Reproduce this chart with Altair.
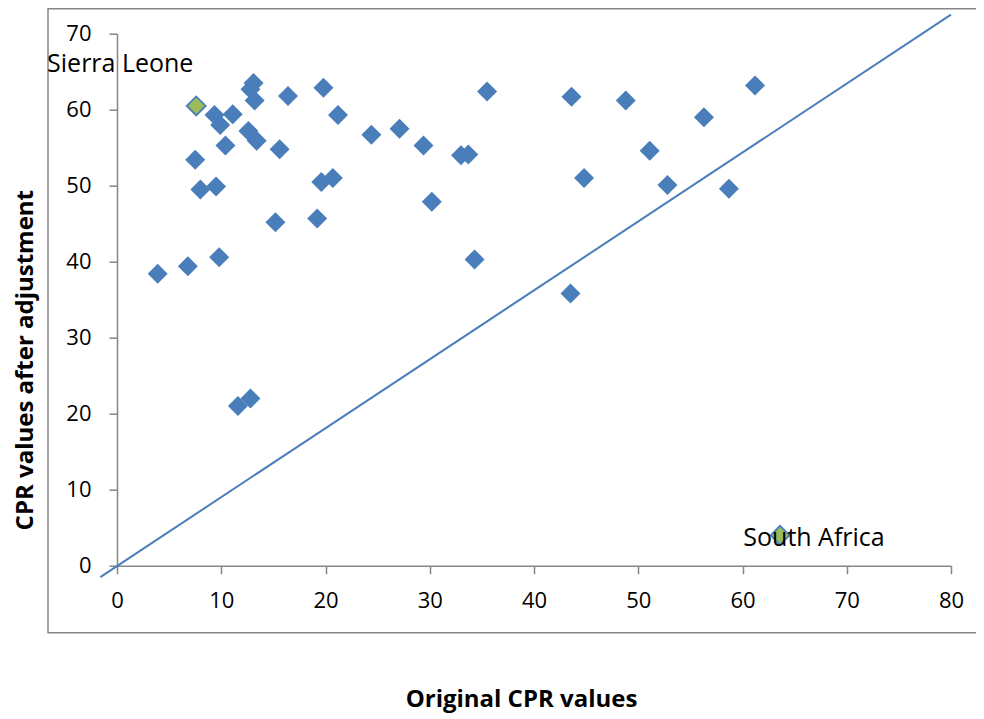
import altair as alt
import pandas as pd

# Original CPR values (x) and CPR values after adjustment (y)
original = [3.9, 6.8, 9.8, 7.5, 8.0, 9.5, 9.35, 9.9, 11.1, 10.4, 12.8, 13.1, 13.2,
            12.6, 13.4, 16.4, 15.6, 15.2, 19.8, 21.2, 19.2, 19.6, 20.7, 24.4, 27.1,
            29.4, 30.2, 33.0, 33.7, 34.3, 35.5, 43.6, 48.8, 61.2, 56.3, 51.1, 44.8,
            52.8, 58.7, 43.5, 11.6, 12.8]
adjusted = [38.4, 39.4, 40.6, 53.4, 49.5, 49.9, 59.3, 58.0, 59.4, 55.3, 62.7, 63.5, 61.2,
            57.2, 55.9, 61.8, 54.8, 45.2, 62.9, 59.3, 45.7, 50.5, 51.0, 56.7, 57.5,
            55.3, 47.9, 54.0, 54.1, 40.3, 62.4, 61.7, 61.2, 63.2, 59.0, 54.6, 51.0,
            50.1, 49.6, 35.8, 21.0, 22.0]

highlight_names = ["Sierra Leone", "South Africa"]
highlight_x = [7.6, 63.6]
highlight_y = [60.5, 4.0]

line_x = [-1.6, 80]
line_y = [-1.5, 72.5]

BLUE = "#4a7ebb"
GREEN = "#9bbb59"
GRAY = "#868686"
FONT = "Open Sans"

pts = pd.DataFrame({"x": original, "y": adjusted})
hl = pd.DataFrame({"name": highlight_names, "x": highlight_x, "y": highlight_y})
ln = pd.DataFrame({"x": line_x, "y": line_y})

xscale = alt.Scale(domain=[0, 80], nice=False, zero=False)
yscale = alt.Scale(domain=[0, 70], nice=False, zero=False)

xaxis = alt.Axis(values=list(range(0, 81, 10)), title="Original CPR values",
                 titleX=404, titleY=134, titleBaseline="middle", titleAlign="center",
                 labelPadding=17, labelFlush=False)
yaxis = alt.Axis(values=list(range(0, 71, 10)), title="CPR values after adjustment",
                 titleX=-92, titleY=326, titleAngle=270, titleBaseline="middle",
                 titleAlign="center", labelPadding=18, labelFlush=False)

frame = alt.Chart(pd.DataFrame({"a": [0]})).mark_rect(
    fillOpacity=0, stroke=GRAY, strokeWidth=1.5
).encode(
    x=alt.value(-69), x2=alt.value(890), y=alt.value(-25), y2=alt.value(599)
)

line = alt.Chart(ln).mark_line(color=BLUE, strokeWidth=2).encode(
    x=alt.X("x:Q", scale=xscale, axis=xaxis),
    y=alt.Y("y:Q", scale=yscale, axis=yaxis),
)

points = alt.Chart(pts).mark_point(
    shape="diamond", filled=True, size=400, color=BLUE, opacity=1
).encode(x="x:Q", y="y:Q")

hl_points = alt.Chart(hl).mark_point(
    shape="diamond", filled=True, size=360, fill=GREEN, stroke=BLUE,
    strokeWidth=1.8, opacity=1, fillOpacity=1
).encode(x="x:Q", y="y:Q")

sl = alt.Chart(hl[hl["name"] == "Sierra Leone"]).mark_text(
    font=FONT, fontSize=25, color="black", dx=-76, dy=-42, align="center", baseline="middle"
).encode(x="x:Q", y="y:Q", text="name:N")

sa = alt.Chart(hl[hl["name"] == "South Africa"]).mark_text(
    font=FONT, fontSize=25, color="black", dx=34, dy=3, align="center", baseline="middle"
).encode(x="x:Q", y="y:Q", text="name:N")

chart = alt.layer(frame, line, points, hl_points, sl, sa).properties(
    width=834, height=532,
    autosize=alt.AutoSizeParams(type="none"),
    padding={"left": 109, "top": 25.7, "right": 25, "bottom": 152},
).configure_view(stroke=None).configure_axis(
    grid=False, domainColor=GRAY, domainWidth=1.5, tickColor=GRAY, tickWidth=1.5,
    tickSize=8, labelFont=FONT, labelFontSize=22, labelColor="black",
    titleFont=FONT, titleFontSize=24, titleFontWeight="bold", titleColor="black",
)

chart.save("out.html", embed_options={"renderer": "svg", "actions": False})
